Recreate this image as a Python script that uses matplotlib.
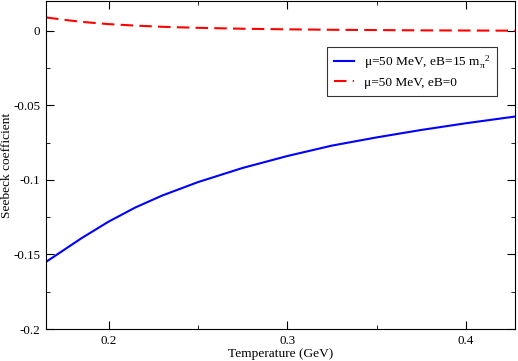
import matplotlib
matplotlib.use('Agg')
import matplotlib.pyplot as plt
import numpy as np
from matplotlib.ticker import MultipleLocator

plt.rcParams['font.family'] = 'Liberation Serif'
plt.rcParams['mathtext.fontset'] = 'custom'
plt.rcParams['mathtext.rm'] = 'Liberation Serif'
plt.rcParams['mathtext.it'] = 'Liberation Serif'

T = [0.165, 0.175, 0.185, 0.2, 0.215, 0.23, 0.25, 0.275, 0.3, 0.325, 0.35, 0.375, 0.4, 0.4275]
S_eB15 = [-0.155, -0.147, -0.139, -0.128, -0.1185, -0.1105, -0.1015, -0.092, -0.084, -0.077, -0.0715, -0.0665, -0.062, -0.0575]
S_eB0 = [0.009, 0.0074, 0.006, 0.0045, 0.0035, 0.0027, 0.002, 0.0014, 0.001, 0.0007, 0.0005, 0.0003, 0.0002, 0.0001]

fig = plt.figure(figsize=(5.18, 3.61), dpi=100)
ax = fig.add_axes([46/518, 32/361, 469/518, 328/361])

ax.plot(T, S_eB15, color='#0000ff', lw=1.5, label='\u03bc=50 MeV, eB=15 m$_{\\pi}^{\\ \\ 2}$')
ax.plot(T, S_eB0, color='#ff0000', lw=1.5, dashes=(6, 3), label='\u03bc=50 MeV, eB=0')

ax.set_xlim(0.165, 0.4275)
ax.set_ylim(-0.2, 0.02)
ax.xaxis.set_major_locator(MultipleLocator(0.1))
ax.xaxis.set_minor_locator(MultipleLocator(0.05))
ax.yaxis.set_major_locator(MultipleLocator(0.05))
ax.yaxis.set_minor_locator(MultipleLocator(0.025))
ax.tick_params(which='both', direction='in', top=True, right=True, labelsize=9.4)
ax.tick_params(which='major', length=6, pad=4)
ax.tick_params(which='minor', length=3)
ax.yaxis.set_major_formatter(plt.FuncFormatter(lambda v, p: '0' if abs(v) < 1e-9 else f'{v:g}'))

ax.set_xlabel('Temperature (GeV)', fontsize=9.6, labelpad=1)
ax.set_ylabel('Seebeck coefficient', fontsize=9.6)
ax.yaxis.set_label_coords(-0.071, 0.5)

leg = ax.legend(loc='upper left', bbox_to_anchor=(0.599, 0.86), borderaxespad=0,
                fontsize=9.6, frameon=True, fancybox=False, edgecolor='black',
                handlelength=1.5, handletextpad=0.8, borderpad=0.5, labelspacing=0.4)
leg.get_frame().set_linewidth(0.8)

fig.savefig('out.png', dpi=100)
